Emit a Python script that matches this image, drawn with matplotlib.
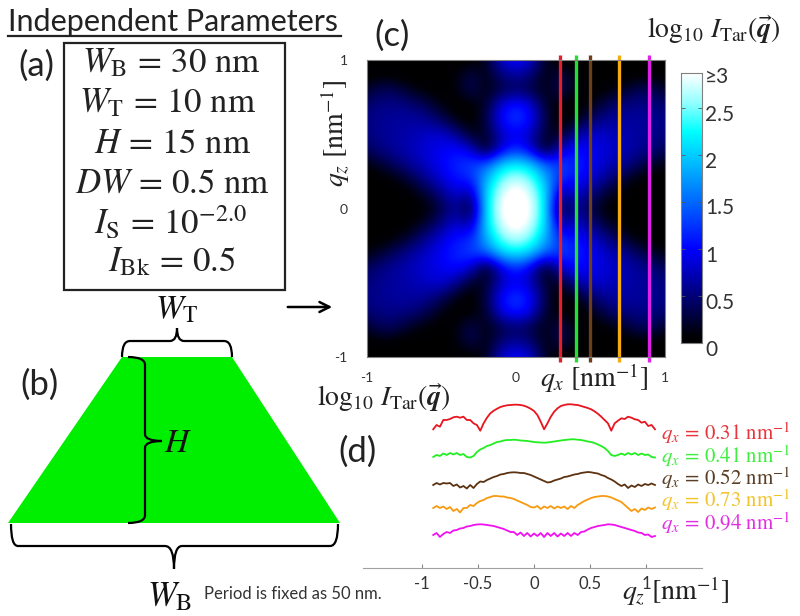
import numpy as np
import matplotlib
matplotlib.use("Agg")
import matplotlib.pyplot as plt
from matplotlib.colors import LinearSegmentedColormap
from matplotlib.patches import PathPatch, Polygon, Rectangle
from matplotlib.path import Path

plt.rcParams['font.family'] = ['Lato', 'DejaVu Sans']
plt.rcParams['mathtext.fontset'] = 'stix'

# log intensity, one quadrant, rows qz=0..1, cols qx=0..1 (steps of 0.1), mirrored below
quadrant = [
    [3.2, 2.85, 2.15, 0.1, 0.65, 0.3, 0.05, 0, 0, 0, 0],
    [3.05, 2.75, 2.1, 0.6, 0.85, 0.55, 0.25, 0.05, 0, 0, 0],
    [2.7, 2.5, 1.85, 1.15, 1.1, 0.85, 0.6, 0.3, 0.1, 0, 0],
    [2.2, 2.0, 1.45, 1.3, 1.15, 1.0, 0.8, 0.65, 0.45, 0.25, 0.1],
    [1.2, 0.85, 0.05, 0.85, 1.05, 0.95, 0.85, 0.75, 0.65, 0.55, 0.4],
    [0.95, 0.75, 0.2, 0.15, 0.6, 0.85, 0.8, 0.7, 0.65, 0.6, 0.5],
    [1.3, 1.05, 0.3, 0.0, 0.1, 0.4, 0.6, 0.65, 0.65, 0.6, 0.55],
    [1.15, 0.9, 0.2, 0.05, 0.0, 0.1, 0.35, 0.5, 0.55, 0.55, 0.45],
    [0.4, 0.3, 0.1, 0.4, 0.1, 0, 0.05, 0.15, 0.35, 0.4, 0.2],
    [0.65, 0.5, 0.1, 0.35, 0.1, 0, 0, 0, 0, 0.05, 0],
    [1.05, 0.85, 0.15, 0, 0, 0, 0, 0, 0, 0, 0],
]
line_qx = [0.295, 0.40, 0.497, 0.69, 0.89]
line_colors = ['#e0202a', '#22e033', '#6b3f1a', '#f5ab10', '#e020e8']
curve_colors = ['#e8141e', '#22ee22', '#5c3210', '#f79a10', '#f010f0']
label_colors = ['#e8353c', '#3fee3f', '#5a3f26', '#f2c42c', '#e22ee2']
qx_labels = ['0.31', '0.41', '0.52', '0.73', '0.94']
cbar_ticks = [0, 0.5, 1, 1.5, 2, 2.5]
cbar_labels = ['0', '0.5', '1', '1.5', '2', '2.5', '≥3']

qz = [-0.90, -0.87, -0.84, -0.81, -0.78, -0.75, -0.72, -0.69, -0.66, -0.63, -0.60, -0.57,
      -0.54, -0.51, -0.48, -0.45, -0.42, -0.39, -0.36, -0.33, -0.30, -0.27, -0.24, -0.21,
      -0.18, -0.15, -0.12, -0.09, -0.06, -0.03, 0.0, 0.03, 0.06, 0.09, 0.12, 0.15, 0.18,
      0.21, 0.24, 0.27, 0.30, 0.33, 0.36, 0.39, 0.42, 0.45, 0.48, 0.51, 0.54, 0.57, 0.60,
      0.63, 0.66, 0.69, 0.72, 0.75, 0.78, 0.81, 0.84, 0.87, 0.90, 0.93, 0.96, 0.99, 1.02,
      1.05, 1.08]
red = [138.7, 143, 141.3, 148, 148, 149, 150.7, 151.3, 150.3, 151.3, 148, 148, 144.7, 143,
       137.3, 144.7, 150.3, 154.7, 157.3, 159.3, 161, 162, 162.7, 163, 163.3, 163.3, 163,
       162.3, 161, 159.3, 157, 153, 146.3, 138.7, 144.7, 151.3, 156.3, 159.7, 162, 163,
       163.7, 163.7, 163.3, 163, 162, 161, 160, 158.7, 156.7, 154.3, 151.3, 148, 144.7,
       137.3, 144.7, 147.3, 149.7, 149, 151.3, 150.3, 148.7, 148, 145.3, 146.3, 142, 143,
       138.7]
green = [111, 113, 112, 114.5, 113, 115, 113.5, 115, 113, 114, 111, 110.5, 112, 116, 118.5,
         120, 122, 123, 124.5, 126, 126.5, 127.5, 128, 128, 128.3, 128, 127.5, 127.3, 127,
         126.5, 126, 125.7, 125.5, 125.3, 125.5, 126, 126.5, 127, 127.5, 128, 128.3, 128.7,
         128.7, 128.3, 128, 127.3, 126.5, 126, 125, 123.5, 122, 120, 117, 113, 112, 113,
         114.5, 113, 115, 113.5, 115, 113, 114.5, 113, 113.5, 111, 110.5]
brown = [83, 85, 83.5, 85, 84.5, 85, 82, 83.5, 80.5, 82, 79.5, 83, 80, 84, 86.5, 86, 88, 89.5,
         91, 92, 93.5, 94, 95, 95.5, 95.7, 95.5, 95, 95, 94, 93, 91.5, 90, 88.5, 87, 85.5,
         86, 87.5, 88.5, 89.5, 91, 91.5, 92.5, 93.5, 94, 95, 95.5, 96, 95.7, 95, 94.5, 93,
         92, 90, 88.5, 86.5, 84, 82, 83.5, 80, 82.5, 81, 83.5, 82, 84, 83, 84.5, 83]
orange = [60, 62, 60, 61.5, 59, 61, 57, 59, 55.5, 60, 60, 63, 62, 65, 67, 68, 70, 71, 72, 72,
          71.5, 71.5, 70.5, 70, 69, 67.5, 66, 64.5, 63, 61, 60.5, 62, 59, 61.5, 60, 62, 59.5,
          61.5, 60, 61.5, 59, 62, 60, 63, 65, 67, 68.5, 70, 71, 71.5, 72, 72, 71.5, 70.5, 69,
          67.5, 66, 63, 60, 57, 59, 56, 59.5, 58, 60.5, 59, 60.5]
magenta = [33, 35, 31, 34, 36, 35, 37.5, 38, 39.5, 40, 41.5, 42, 43, 43.5, 43.7, 43.5, 43,
           42.5, 42, 41, 40, 39, 37.5, 36, 36, 33, 35.5, 32, 35, 31.5, 34.5, 32, 35, 31, 35,
           32, 35, 31.5, 34.5, 32, 35, 32, 35, 33, 36, 36.5, 38.5, 40, 41, 42, 42.5, 43, 43.7,
           43.5, 43, 42, 41, 40, 39, 38, 37, 35.5, 35, 33, 33.5, 31, 32]
curves = [red, green, brown, orange, magenta]

W, H = 800, 616
fig = plt.figure(figsize=(W / 100, H / 100), dpi=100, facecolor='white')


def px_axes(x0, y0, x1, y1, **kw):
    return fig.add_axes([x0 / W, 1 - y1 / H, (x1 - x0) / W, (y1 - y0) / H], **kw)


cmap = LinearSegmentedColormap.from_list('tar', [
    (0, '#000000'), (0.08 / 2.87, '#000008'), (1 / 2.87, '#0000ff'), (1.5 / 2.87, '#0068ff'),
    (2.25 / 2.87, '#00ffff'), (2.55 / 2.87, '#90ffff'), (1, '#ffffff')])

# (c) map
q = np.array(quadrant)
top = np.hstack([q[:, :0:-1], q])
full = np.vstack([top[:0:-1], top])
ax = px_axes(367, 60, 665, 357)
ax.imshow(full, extent=(-1.05, 1.05, -1.05, 1.05), origin='lower', cmap=cmap, vmin=0, vmax=2.87,
          interpolation='bicubic', aspect='auto')
ax.set_xlim(-1, 1)
ax.set_ylim(-1, 1)
ax.set_xticks([-1, 0, 1])
ax.set_xticklabels(['-1', '0', '1'])
ax.set_yticks([-1, 0, 1])
ax.set_yticklabels(['-1', '0', '1'])
ax.tick_params(length=0, labelsize=10, labelcolor='#333333')
ax.tick_params(axis='x', pad=11)
ax.tick_params(axis='y', pad=14)
for s in ax.spines.values():
    s.set_color('#808080')
    s.set_linewidth(0.8)
for x, c in zip(line_qx, line_colors):
    ax.plot([x, x], [-1.035, 1.035], color=c, lw=2.4, clip_on=False, solid_capstyle='butt')

# colorbar
cax = px_axes(681, 73, 702, 343)
cax.imshow(np.linspace(0, 2.87, 256).reshape(-1, 1), extent=(0, 1, 0, 2.87), origin='lower',
           cmap=cmap, vmin=0, vmax=2.87, aspect='auto')
cax.set_xticks([])
cax.set_yticks(cbar_ticks)
cax.set_yticklabels([])
cax.tick_params(axis='y', length=3, width=0.6, direction='in', left=True, right=True, color='#555555')
for s in cax.spines.values():
    s.set_color('#808080')
    s.set_linewidth(0.8)

# (d) profiles
pax = px_axes(363, 395, 702, 568)
for y, c in zip(curves, curve_colors):
    pax.plot(qz, y, color=c, lw=1.3)
pax.set_xlim(-1.527, 1.5)
pax.set_ylim(0, 173)
pax.patch.set_alpha(0)
for s in ['top', 'left', 'right']:
    pax.spines[s].set_visible(False)
pax.spines['bottom'].set_color('#a0a0a0')
pax.set_yticks([])
pax.set_xticks([-1, -0.5, 0, 0.5, 1])
pax.set_xticklabels(['-1', '-0.5', '0', '0.5', '1'])
pax.tick_params(axis='x', direction='in', length=3, color='#888888', labelsize=12,
                labelcolor='#333333', pad=6)

# everything else is annotation, overlay in pixel coords
ov = fig.add_axes([0, 0, 1, 1], zorder=5)
ov.set_xlim(0, W)
ov.set_ylim(H, 0)
ov.axis('off')

ov.text(8, 31, 'Independent Parameters', fontsize=22, color='#222222', va='baseline')
ov.plot([8, 341], [36, 36], color='#222222', lw=1.6)

ov.add_patch(Rectangle((64, 43), 221, 247, fill=False, ec='#222222', lw=1.6))
params = [r'$W_{\mathrm{B}}\,=\,30\ \mathrm{nm}$', r'$W_{\mathrm{T}}\,=\,10\ \mathrm{nm}$',
          r'$H\,=\,15\ \mathrm{nm}$', r'$DW\,=\,0.5\ \mathrm{nm}$',
          r'$I_{\mathrm{S}}\,=\,10^{-2.0}$', r'$I_{\mathrm{Bk}}\,=\,0.5$']
for i, (s, xc) in enumerate(zip(params, [171, 168, 172, 172, 171, 172])):
    ov.text(xc, 63 + i * 39.8, s, fontsize=25, ha='center', va='center', color='#222222')

for s, x, y in [('(a)', 36, 66), ('(b)', 40, 385), ('(c)', 392, 36), ('(d)', 357, 452)]:
    ov.text(x, y, s, fontsize=25, ha='center', va='center', color='#222222')

ov.add_patch(Polygon([(8, 523), (122, 357), (232, 357), (340, 523)], fc='#00ee00', ec='none'))


def brace(pts):
    # pts: straight runs joined by small curved corners, quadratic pieces
    codes = [Path.MOVETO] + [Path.CURVE3, Path.CURVE3] * ((len(pts) - 1) // 2)
    ov.add_patch(PathPatch(Path(pts, codes), fc='none', ec='black', lw=1.6))


# top brace
brace([(122, 357), (122, 341), (130, 341), (150, 341), (170, 341), (177, 341), (177, 328)])
brace([(232, 357), (232, 341), (224, 341), (204, 341), (184, 341), (177, 341), (177, 328)])
# bottom brace
brace([(11, 524), (11, 546), (18, 546), (90, 546), (165, 546), (174, 546), (174, 569)])
brace([(338, 524), (338, 546), (330, 546), (250, 546), (182, 546), (174, 546), (174, 569)])
# H brace
brace([(128, 357), (145, 357), (145, 365), (145, 400), (145, 434), (145, 441), (162, 441)])
brace([(128, 523), (145, 523), (145, 515), (145, 480), (145, 448), (145, 441), (162, 441)])

ov.text(178, 443, r'$H$', fontsize=24, ha='center', va='center', color='#111111')
ov.text(177, 310, r'$W_{\mathrm{T}}$', fontsize=24, ha='center', va='center', color='#111111')
ov.text(170, 597, r'$W_{\mathrm{B}}$', fontsize=25, ha='center', va='center', color='#111111')
ov.text(204, 594, 'Period is fixed as 50 nm.', fontsize=12, va='center', color='#333333')
ov.annotate('', xy=(335, 307), xytext=(285, 307),
            arrowprops=dict(arrowstyle='->', color='black', lw=1.8, mutation_scale=18))

logI = r'$\log_{10}\,I_{\mathrm{Tar}}(\vec{\mathbfit{q}})$'
ov.text(714, 30, logI, fontsize=20, ha='center', va='center', color='#222222')
ov.text(384, 398, logI, fontsize=20, ha='center', va='center', color='#222222')
ov.text(335, 133, r'$q_z\ [\mathrm{nm}^{-1}]$', fontsize=20, rotation=90, ha='center', va='center', color='#222222')
ov.text(594, 378, r'$q_x\ [\mathrm{nm}^{-1}]$', fontsize=20, ha='center', va='center', color='#222222')
ov.text(676, 591, r'$q_z\ [\mathrm{nm}^{-1}]$', fontsize=20, ha='center', va='center', color='#222222')

for s, y in zip(cbar_labels, [350, 303, 256, 208, 162, 115, 77]):
    ov.text(705, y, s, fontsize=15, va='center', color='#333333')
for s, c, y in zip(qx_labels, label_colors, [433, 456, 478, 500, 523]):
    ov.text(726, y, r'$q_x\,=\,%s\ \mathrm{nm}^{-1}$' % s, fontsize=15, ha='center', va='center', color=c)

fig.savefig('out.png', dpi=100)
